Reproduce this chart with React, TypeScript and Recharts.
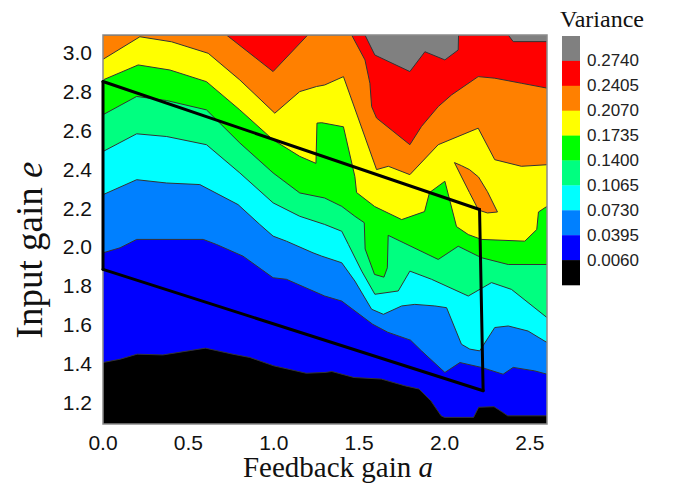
import { ComposedChart, Area, XAxis, YAxis, ReferenceLine, ReferenceArea } from 'recharts';

type Pt = [number, number];

const A_MAX = 2.6;
const E_MIN = 1.09;
const E_MAX = 3.09;

const xTicks = [0, 0.5, 1, 1.5, 2, 2.5];
const yTicks = [1.2, 1.4, 1.6, 1.8, 2.0, 2.2, 2.4, 2.6, 2.8, 3.0];

// contour levels shown in the colour bar (top to bottom)
const levels = [0.274, 0.2405, 0.207, 0.1735, 0.14, 0.1065, 0.073, 0.0395, 0.006];
const bandColors = ['#808080', '#ff0000', '#ff8000', '#ffff00', '#00ff00', '#00ff80', '#00ffff', '#0080ff', '#0000ff', '#000000'];

// upper edge of each band as [a, e] points
const grayTop: Pt[] = [[0, 3.09], [2.6, 3.09]];
const redTop: Pt[] = [
  [0, 3.09], [1.534, 3.09], [1.592, 2.987], [1.797, 2.902], [1.885, 3.004], [2.002, 2.962],
  [2.08, 3.013], [2.082, 3.09], [2.373, 3.09], [2.402, 3.056], [2.6, 3.056],
];
const orangeTop: Pt[] = [
  [0, 3.09], [0.723, 3.09], [0.996, 2.902], [1.199, 3.09], [1.456, 3.09], [1.534, 2.962],
  [1.563, 2.842], [1.573, 2.722], [1.602, 2.663], [1.797, 2.526], [1.865, 2.62], [1.963, 2.722],
  [2.041, 2.782], [2.197, 2.876], [2.294, 2.868], [2.45, 2.842], [2.6, 2.817],
];
const yellowTop: Pt[] = [
  [0, 2.965], [0.216, 3.081], [0.402, 3.055], [0.616, 2.996], [0.801, 2.859], [1.006, 2.688],
  [1.152, 2.799], [1.25, 2.825], [1.298, 2.833], [1.408, 2.876], [1.602, 2.398], [1.671, 2.415],
  [1.797, 2.372], [1.963, 2.526], [2.197, 2.611], [2.294, 2.449], [2.45, 2.415], [2.6, 2.423],
];
const greenTop: Pt[] = [
  [0, 2.859], [0.206, 2.936], [0.392, 2.91], [0.606, 2.85], [0.801, 2.705], [0.996, 2.551],
  [1.152, 2.466], [1.247, 2.43], [1.253, 2.637], [1.281, 2.639], [1.408, 2.618], [1.475, 2.362],
  [1.485, 2.28], [1.591, 2.208], [1.749, 2.141], [1.883, 2.182], [1.912, 2.28], [2.002, 2.338],
  [2.07, 2.105], [2.139, 2.064], [2.216, 2.039], [2.47, 2.03], [2.54, 2.09], [2.55, 2.18], [2.6, 2.209],
];
const springTop: Pt[] = [
  [0, 2.68], [0.197, 2.774], [0.373, 2.753], [0.606, 2.705], [0.801, 2.535], [0.996, 2.381],
  [1.152, 2.278], [1.298, 2.252], [1.398, 2.209], [1.475, 2.158], [1.53, 2.125], [1.535, 1.99],
  [1.59, 1.859], [1.645, 1.845], [1.665, 1.893], [1.67, 2.06], [1.963, 1.936], [2.08, 2.004],
  [2.216, 1.945], [2.373, 1.91], [2.6, 1.91],
];
const cyanTop: Pt[] = [
  [0, 2.491], [0.197, 2.582], [0.373, 2.568], [0.606, 2.526], [0.801, 2.381], [0.996, 2.227],
  [1.152, 2.158], [1.298, 2.116], [1.398, 2.081], [1.437, 2.013], [1.515, 1.876], [1.592, 1.757],
  [1.729, 1.774], [1.797, 1.876], [1.924, 1.834], [2.139, 1.748], [2.275, 1.817], [2.392, 1.782],
  [2.6, 1.637],
];
const midBlueTop: Pt[] = [
  [0, 2.269], [0.197, 2.346], [0.373, 2.329], [0.567, 2.321], [0.791, 2.218], [0.918, 2.116],
  [0.996, 2.056], [1.074, 2.03], [1.23, 1.97], [1.281, 1.953], [1.398, 1.919], [1.475, 1.825],
  [1.573, 1.68], [1.642, 1.654], [1.749, 1.697], [1.826, 1.705], [1.943, 1.697], [2.012, 1.688],
  [2.099, 1.5], [2.148, 1.475], [2.206, 1.466], [2.294, 1.586], [2.373, 1.594], [2.489, 1.568],
  [2.6, 1.509],
];
const blueTop: Pt[] = [
  [0, 1.97], [0.1, 1.996], [0.197, 2.039], [0.587, 2.039], [0.665, 2.013], [0.82, 1.953],
  [0.996, 1.842], [1.074, 1.834], [1.298, 1.748], [1.398, 1.722], [1.579, 1.603], [1.667, 1.562],
  [1.801, 1.521], [1.865, 1.466], [2.002, 1.355], [2.09, 1.406], [2.216, 1.381], [2.343, 1.346],
  [2.402, 1.381], [2.528, 1.363], [2.6, 1.346],
];
const blackTop: Pt[] = [
  [0, 1.406], [0.1, 1.423], [0.2, 1.449], [0.35, 1.445], [0.6, 1.48], [0.76, 1.449],
  [0.86, 1.432], [1.0, 1.389], [1.19, 1.351], [1.3, 1.355], [1.34, 1.36], [1.47, 1.329],
  [1.63, 1.321], [1.77, 1.286], [1.85, 1.27], [1.92, 1.209], [1.98, 1.132], [2.0, 1.124],
  [2.17, 1.124], [2.2, 1.176], [2.29, 1.179], [2.34, 1.15], [2.37, 1.132], [2.6, 1.132],
];

// orange island inside the yellow band: [a, low e, high e]
const orangeIsland: [number, number, number][] = [
  [2.058, 2.434, 2.434], [2.1, 2.36, 2.418], [2.146, 2.28, 2.398],
  [2.199, 2.19, 2.36], [2.251, 2.175, 2.285], [2.31, 2.18, 2.18],
];

// black outline drawn over the map
const frame: Pt[] = [[0, 2.851], [2.205, 2.193], [2.226, 1.261], [0, 1.885]];

const bands = [
  { key: 'gray', pts: grayTop },
  { key: 'red', pts: redTop },
  { key: 'orange', pts: orangeTop },
  { key: 'yellow', pts: yellowTop },
  { key: 'green', pts: greenTop },
  { key: 'spring', pts: springTop },
  { key: 'cyan', pts: cyanTop },
  { key: 'midblue', pts: midBlueTop },
  { key: 'blue', pts: blueTop },
  { key: 'black', pts: blackTop },
];

const rowMap = new Map<number, any>();
const rowAt = (a: number) => {
  if (!rowMap.has(a)) rowMap.set(a, { a });
  return rowMap.get(a);
};
bands.forEach((b) => b.pts.forEach(([a, e]) => { rowAt(a)[b.key] = e; }));
orangeIsland.forEach(([a, lo, hi]) => { rowAt(a).island = [lo, hi]; });
const data = [...rowMap.values()].sort((p, q) => p.a - q.a);

const tickStyle = { fontSize: 21, fill: '#111', fontFamily: '"Liberation Sans", Arial, sans-serif' };
const serif = '"Liberation Serif", "Times New Roman", serif';

export default function App() {
  return (
    <div style={{ position: 'relative', width: 655, height: 475 }}>
      <ComposedChart width={655} height={475} data={data} margin={{ top: 27, right: 116, bottom: 29, left: 0 }}>
        <XAxis
          type="number"
          dataKey="a"
          domain={[0, A_MAX]}
          ticks={xTicks}
          tickFormatter={(v) => v.toFixed(1)}
          tickLine={false}
          axisLine={false}
          tickSize={0}
          tickMargin={11}
          height={30}
          tick={tickStyle}
          allowDataOverflow
        />
        <YAxis
          type="number"
          domain={[E_MIN, E_MAX]}
          ticks={yTicks}
          tickFormatter={(v) => v.toFixed(1)}
          tickLine={false}
          axisLine={false}
          tickSize={0}
          tickMargin={11}
          width={95}
          tick={tickStyle}
          allowDataOverflow
        />
        {bands.map((b, i) => (
          <Area
            key={b.key}
            type="linear"
            dataKey={b.key}
            fill={bandColors[i]}
            fillOpacity={1}
            stroke={i === 0 ? 'none' : '#333'}
            strokeWidth={1}
            connectNulls
            dot={false}
            activeDot={false}
            isAnimationActive={false}
          />
        ))}
        <Area
          type="linear"
          dataKey="island"
          fill={bandColors[2]}
          fillOpacity={1}
          stroke="#333"
          strokeWidth={1}
          connectNulls
          dot={false}
          activeDot={false}
          isAnimationActive={false}
        />
        <ReferenceArea x1={0} x2={A_MAX} y1={E_MIN} y2={E_MAX} fill="none" stroke="#8a8a8a" strokeWidth={1.5} ifOverflow="visible" />
        {frame.map((p, i) => {
          const q = frame[(i + 1) % frame.length];
          return (
            <ReferenceLine
              key={i}
              segment={[{ x: p[0], y: p[1] }, { x: q[0], y: q[1] }]}
              stroke="#000"
              strokeWidth={3}
              strokeLinecap="round"
              ifOverflow="visible"
            />
          );
        })}
      </ComposedChart>
      <svg width={655} height={475} style={{ position: 'absolute', left: 0, top: 0, pointerEvents: 'none', overflow: 'visible' }}>
        <text x={594} y={19} textAnchor="middle" fontFamily={serif} fontSize={24} fill="#111">Variance</text>
        {bandColors.map((c, i) => (
          <rect key={c} x={554} y={28 + i * 24.9} width={18} height={25.2} fill={c} />
        ))}
        {levels.map((v, i) => (
          <text
            key={v}
            x={579}
            y={28 + (i + 1) * 24.9}
            dominantBaseline="central"
            fontFamily='"Liberation Sans", Arial, sans-serif'
            fontSize={17}
            fill="#222"
          >
            {v.toFixed(4)}
          </text>
        ))}
        <text x={330} y={469} textAnchor="middle" fontFamily={serif} fontSize={29} fill="#111">
          Feedback gain <tspan fontStyle="italic">a</tspan>
        </text>
        <text x={34} y={242} transform="rotate(-90 34 242)" textAnchor="middle" fontFamily={serif} fontSize={37} fill="#111">
          Input gain <tspan fontStyle="italic">e</tspan>
        </text>
      </svg>
    </div>
  );
}
